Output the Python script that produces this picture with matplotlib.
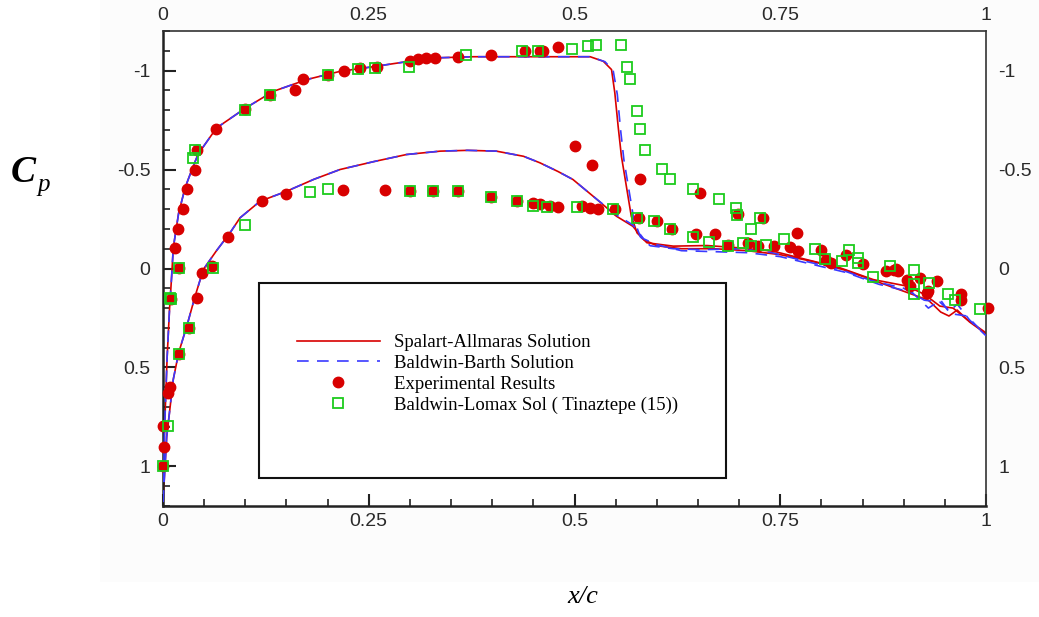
import matplotlib
matplotlib.use("Agg")
import matplotlib.pyplot as plt
import matplotlib.patches as patches
from matplotlib.ticker import MultipleLocator, FormatStrFormatter

# ---- CFD solutions (x/c, Cp) ----
# Spalart-Allmaras, upper surface (shock near x/c=0.55)
sa_up_x = [0.0, 0.002, 0.005, 0.008, 0.0105, 0.0125, 0.019, 0.027, 0.037, 0.043, 0.065,
           0.1, 0.134, 0.175, 0.215, 0.256, 0.296, 0.337, 0.377, 0.42, 0.478, 0.519,
           0.535, 0.545, 0.549, 0.553, 0.557, 0.563, 0.569, 0.576, 0.588, 0.62, 0.661,
           0.701, 0.742, 0.782, 0.823, 0.863, 0.904, 0.925, 0.944, 0.96, 0.977, 1.0]
sa_up_cp = [1.18, 0.8, 0.45, 0.2, 0.04, -0.105, -0.28, -0.41, -0.52, -0.58, -0.71,
            -0.81, -0.895, -0.955, -0.996, -1.02, -1.045, -1.065, -1.07, -1.07, -1.07, -1.07,
            -1.047, -1.005, -0.887, -0.719, -0.567, -0.416, -0.264, -0.18, -0.13, -0.113, -0.116,
            -0.104, -0.087, -0.045, -0.003, 0.056, 0.089, 0.13, 0.19, 0.2, 0.258, 0.325]
# Spalart-Allmaras, lower surface
sa_lo_x = [0.0, 0.0045, 0.0125, 0.019, 0.029, 0.039, 0.049, 0.065, 0.0814, 0.0936, 0.118,
           0.15, 0.183, 0.215, 0.256, 0.296, 0.337, 0.37, 0.405, 0.438, 0.458, 0.48,
           0.498, 0.527, 0.551, 0.571, 0.584, 0.6, 0.63, 0.67, 0.71, 0.75, 0.79, 0.83,
           0.87, 0.91, 0.93, 0.945, 0.955, 0.965, 0.98, 1.0]
sa_lo_cp = [1.18, 0.85, 0.56, 0.426, 0.29, 0.14, 0.005, -0.09, -0.18, -0.256, -0.34,
            -0.39, -0.45, -0.5, -0.54, -0.576, -0.593, -0.597, -0.593, -0.567, -0.534, -0.49,
            -0.45, -0.35, -0.264, -0.213, -0.146, -0.115, -0.1, -0.1, -0.09, -0.07, -0.035, 0.01,
            0.07, 0.13, 0.16, 0.22, 0.24, 0.21, 0.27, 0.33]

# Baldwin-Barth, upper surface
bb_up_x = [0.0, 0.002, 0.005, 0.008, 0.0105, 0.0125, 0.019, 0.027, 0.037, 0.043, 0.065,
           0.1, 0.134, 0.175, 0.215, 0.256, 0.296, 0.337, 0.377, 0.42, 0.478, 0.519,
           0.537, 0.547, 0.552, 0.556, 0.56, 0.566, 0.572, 0.58, 0.592, 0.62, 0.655,
           0.7, 0.74, 0.782, 0.823, 0.86, 0.9, 0.925, 0.944, 0.96, 0.977, 1.0]
bb_up_cp = [1.18, 0.8, 0.45, 0.2, 0.04, -0.105, -0.28, -0.41, -0.52, -0.58, -0.71,
            -0.81, -0.895, -0.955, -0.996, -1.02, -1.045, -1.065, -1.07, -1.07, -1.07, -1.07,
            -1.045, -1.0, -0.88, -0.7, -0.55, -0.4, -0.25, -0.16, -0.115, -0.1, -0.095,
            -0.1, -0.08, -0.035, 0.005, 0.06, 0.1, 0.16, 0.17, 0.23, 0.24, 0.34]
# Baldwin-Barth, lower surface
bb_lo_x = [0.0, 0.0045, 0.0125, 0.019, 0.029, 0.039, 0.049, 0.065, 0.0814, 0.0936, 0.118,
           0.15, 0.183, 0.215, 0.256, 0.296, 0.337, 0.37, 0.405, 0.438, 0.458, 0.48,
           0.498, 0.527, 0.551, 0.571, 0.584, 0.6, 0.63, 0.67, 0.71, 0.75, 0.79, 0.83,
           0.87, 0.91, 0.93, 0.945, 0.955, 0.965, 0.98, 1.0]
bb_lo_cp = [1.18, 0.85, 0.56, 0.426, 0.29, 0.14, 0.005, -0.09, -0.18, -0.256, -0.34,
            -0.39, -0.45, -0.5, -0.54, -0.576, -0.593, -0.597, -0.593, -0.567, -0.534, -0.49,
            -0.45, -0.35, -0.27, -0.22, -0.15, -0.12, -0.09, -0.085, -0.08, -0.06, -0.02, 0.02,
            0.08, 0.12, 0.2, 0.16, 0.22, 0.18, 0.26, 0.34]

# ---- Experimental results ----
exp_x = [0.0146, 0.0186, 0.024, 0.0296, 0.039, 0.041, 0.065, 0.0996, 0.13, 0.16, 0.17,
         0.2, 0.22, 0.239, 0.26, 0.3, 0.31, 0.32, 0.33, 0.359, 0.399, 0.44, 0.458, 0.462,
         0.48, 0.5, 0.521, 0.58, 0.652, 0.699, 0.729, 0.77, 0.8, 0.83, 0.851, 0.888, 0.893,
         0.92, 0.94, 0.97,
         0.0198, 0.0097, 0.0085, 0.0065, 0.0, 0.0012, 0.0, 0.0198, 0.031, 0.041, 0.047,
         0.059, 0.079, 0.12, 0.15, 0.219, 0.27, 0.3, 0.328, 0.359, 0.399, 0.43, 0.45,
         0.458, 0.47, 0.48, 0.509, 0.519, 0.529, 0.549, 0.578, 0.6, 0.618, 0.648, 0.671,
         0.687, 0.711, 0.723, 0.742, 0.762, 0.772, 0.806, 0.812, 0.879, 0.891, 0.904, 0.908,
         0.928, 0.93, 0.97, 1.003]
exp_cp = [-0.104, -0.2, -0.3, -0.4, -0.5, -0.6, -0.705, -0.807, -0.879, -0.904, -0.958,
          -0.98, -1.0, -1.013, -1.02, -1.047, -1.056, -1.064, -1.064, -1.07, -1.08, -1.1, -1.1, -1.1,
          -1.12, -0.62, -0.525, -0.453, -0.382, -0.273, -0.253, -0.18, -0.092, -0.07, -0.025, 0.008, 0.014,
          0.047, 0.064, 0.131,
          -0.003, 0.152, 0.6, 0.628, 0.796, 0.9, 1.0, 0.43, 0.303, 0.148, 0.025,
          -0.012, -0.16, -0.34, -0.374, -0.399, -0.399, -0.394, -0.394, -0.394, -0.362, -0.343, -0.332,
          -0.328, -0.318, -0.312, -0.318, -0.306, -0.3, -0.3, -0.253, -0.24, -0.2, -0.172, -0.172,
          -0.121, -0.13, -0.113, -0.116, -0.11, -0.087, -0.045, -0.029, 0.014, 0.005, 0.056, 0.089,
          0.123, 0.114, 0.157, 0.199]

# ---- Baldwin-Lomax (Tinaztepe) ----
bl_x = [0.0198, 0.0085, 0.037, 0.039, 0.0996, 0.13, 0.2, 0.237, 0.258, 0.299, 0.368,
        0.436, 0.456, 0.497, 0.516, 0.526, 0.557, 0.564, 0.567, 0.576, 0.579, 0.586, 0.606,
        0.616, 0.644, 0.675, 0.696, 0.697, 0.725, 0.715, 0.754, 0.792, 0.804, 0.825, 0.834,
        0.845, 0.845, 0.863, 0.883, 0.912, 0.913, 0.912, 0.931, 0.954, 0.962, 0.993,
        0.0996, 0.061, 0.031, 0.0198, 0.0097, 0.0065, 0.0, 0.179, 0.2, 0.3, 0.328, 0.359,
        0.399, 0.43, 0.45, 0.466, 0.503, 0.547, 0.576, 0.596, 0.616, 0.644, 0.664, 0.686,
        0.705, 0.714, 0.733]
bl_cp = [-0.003, 0.148, -0.56, -0.6, -0.8, -0.879, -0.98, -1.01, -1.013, -1.019, -1.08,
         -1.1, -1.1, -1.111, -1.123, -1.131, -1.131, -1.019, -0.958, -0.798, -0.707, -0.601, -0.503,
         -0.453, -0.402, -0.352, -0.306, -0.268, -0.253, -0.2, -0.15, -0.1, -0.049, -0.037, -0.092,
         -0.054, -0.029, 0.042, -0.012, 0.008, 0.076, 0.131, 0.072, 0.131, 0.157, 0.204,
         -0.222, -0.003, 0.303, 0.43, 0.152, 0.796, 1.0, -0.385, -0.402, -0.394, -0.394, -0.394,
         -0.362, -0.343, -0.316, -0.313, -0.31, -0.3, -0.253, -0.24, -0.2, -0.16, -0.133, -0.116,
         -0.13, -0.116, -0.121]

RED = "#d80000"
BLUE = "#3a3aff"
GREEN = "#1ccc1c"

fig = plt.figure(figsize=(10.39, 6.17), dpi=100)
fig.patch.set_facecolor("white")
# faint panel behind the plot area (as in the scanned original)
fig.patches.append(patches.Rectangle((100 / 1039, 35 / 617), 939 / 1039, 582 / 617,
                                     transform=fig.transFigure, facecolor="#fcfcfc",
                                     edgecolor="none", zorder=-10))

ax = fig.add_axes([163 / 1039, 111 / 617, 823 / 1039, 475 / 617])
ax.set_facecolor("white")

l_sa, = ax.plot(sa_up_x, sa_up_cp, color=RED, lw=1.2, label="Spalart-Allmaras Solution", zorder=2)
ax.plot(sa_lo_x, sa_lo_cp, color=RED, lw=1.2, zorder=2)
l_bb, = ax.plot(bb_up_x, bb_up_cp, color=BLUE, lw=1.2, dashes=(7, 5),
                label="Baldwin-Barth Solution", zorder=3)
ax.plot(bb_lo_x, bb_lo_cp, color=BLUE, lw=1.2, dashes=(7, 5), zorder=3)
l_exp, = ax.plot(exp_x, exp_cp, ls="none", marker="o", ms=7.5, color=RED, mec=RED,
                 label="Experimental Results", zorder=4, clip_on=False)
l_bl, = ax.plot(bl_x, bl_cp, ls="none", marker="s", ms=6.5, mfc="none", mec=GREEN, mew=1.3,
                label="Baldwin-Lomax Sol ( Tinaztepe (15))", zorder=5, clip_on=False)

ax.set_xlim(0, 1)
ax.set_ylim(1.2, -1.2)
ax.xaxis.set_major_locator(MultipleLocator(0.25))
ax.xaxis.set_minor_locator(MultipleLocator(0.05))
ax.yaxis.set_major_locator(MultipleLocator(0.5))
ax.yaxis.set_minor_locator(MultipleLocator(0.1))
ax.xaxis.set_major_formatter(FormatStrFormatter("%g"))
ax.yaxis.set_major_formatter(FormatStrFormatter("%g"))

ax.tick_params(axis="both", which="major", direction="in", length=9, width=1.5, color="#222222",
               labelsize=14, labelcolor="#2a2a2a", labelfontfamily="Liberation Sans")
ax.tick_params(axis="both", which="minor", direction="in", length=5, width=1.2, color="#222222")
ax.tick_params(axis="x", which="both", top=False, labeltop=True, pad=5)
ax.tick_params(axis="y", which="both", right=False, labelright=True, pad=9)

for side in ["left", "bottom"]:
    ax.spines[side].set_linewidth(1.8)
    ax.spines[side].set_color("#222222")
for side in ["top", "right"]:
    ax.spines[side].set_linewidth(1.2)
    ax.spines[side].set_color("#333333")

# legend frame + entries
ax.add_patch(patches.Rectangle((0.1166, 0.059), 0.5675, 0.41, transform=ax.transAxes,
                               fill=False, ec="#111111", lw=1.5, zorder=6))
leg = ax.legend(handles=[l_sa, l_bb, l_exp, l_bl], loc="center left",
                bbox_to_anchor=(0.163, 0.278), frameon=False, borderpad=0, borderaxespad=0,
                handlelength=4.4, handletextpad=0.75, labelspacing=0.2, numpoints=1,
                prop={"family": "Liberation Serif", "size": 13.5})
leg.set_zorder(7)

# axis titles
fig.text(11 / 1039, 1 - 182 / 617, "C", fontsize=27, family="Liberation Serif",
         style="italic", weight="bold", va="baseline", ha="left")
fig.text(37 / 1039, 1 - 191 / 617, "p", fontsize=18, family="Liberation Serif",
         style="italic", va="baseline", ha="left")
fig.text(583 / 1039, 1 - 597 / 617, "x/c", fontsize=19, family="Liberation Serif",
         style="italic", va="center", ha="center")

fig.savefig("out.png", dpi=100, facecolor=fig.get_facecolor())
